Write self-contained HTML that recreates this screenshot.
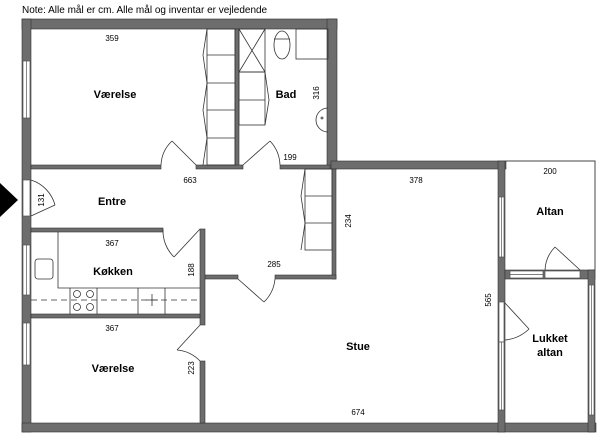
<!DOCTYPE html><html><head><style>body{margin:0;background:#fff}svg{display:block}text{font-family:"Liberation Sans",sans-serif}</style></head><body>
<svg width="600" height="436" viewBox="0 0 600 436" xmlns="http://www.w3.org/2000/svg">
<text x="22" y="13" font-size="10">Note: Alle mål er cm. Alle mål og inventar er vejledende</text>
<g fill="#6d6d6d" stroke="#333" stroke-width="0.6">
<rect x="22" y="19" width="315" height="10"/>
<rect x="22" y="19" width="9" height="413"/>
<rect x="327" y="19" width="10" height="150"/>
<rect x="331" y="161" width="175" height="8"/>
<rect x="22" y="423" width="574" height="9"/>
<rect x="498" y="161" width="7" height="271"/>
<rect x="505" y="270" width="90" height="9"/>
<rect x="588" y="270" width="7" height="162"/>
<rect x="235" y="29" width="4" height="138"/>
<rect x="31" y="165" width="130" height="4"/>
<rect x="196" y="165" width="47" height="4"/>
<rect x="280" y="165" width="50" height="4"/>
<rect x="332" y="169" width="4" height="110"/>
<rect x="205" y="275" width="33" height="4"/>
<rect x="275" y="275" width="61" height="4"/>
<rect x="31" y="228" width="132" height="4"/>
<rect x="200" y="229" width="5" height="96"/>
<rect x="200" y="361" width="5" height="62"/>
<rect x="31" y="314" width="169" height="4"/>
</g>
<polyline points="505,161 595,161 595,270" fill="none" stroke="#444" stroke-width="1"/>
<g fill="#fff" stroke="#555" stroke-width="0.7">
<rect x="23" y="61" width="7" height="57"/><line x1="26.5" y1="61" x2="26.5" y2="118"/>
<rect x="23" y="245" width="7" height="50"/><line x1="26.5" y1="245" x2="26.5" y2="295"/>
<rect x="23" y="323" width="7" height="42"/><line x1="26.5" y1="323" x2="26.5" y2="365"/>
<rect x="23" y="180" width="7" height="36"/>
<rect x="499" y="197" width="5" height="60"/><line x1="501.5" y1="197" x2="501.5" y2="257"/>
<rect x="499" y="302" width="5" height="40"/>
<rect x="499" y="342" width="5" height="68"/><line x1="501.5" y1="342" x2="501.5" y2="410"/>
<rect x="510" y="271" width="33" height="7"/><line x1="510" y1="274.5" x2="543" y2="274.5"/>
<rect x="545" y="271" width="35" height="7"/>
<rect x="589" y="285" width="5" height="130"/><line x1="591.5" y1="285" x2="591.5" y2="415"/>
</g>
<polygon points="0,183 18,200 0,217" fill="#000"/>
<g fill="none" stroke="#333" stroke-width="0.8">
<rect x="207" y="29" width="28" height="136"/>
<line x1="207" y1="55" x2="235" y2="55"/><line x1="207" y1="83" x2="235" y2="83"/><line x1="207" y1="110" x2="235" y2="110"/><line x1="207" y1="138" x2="235" y2="138"/>
<polyline points="207,29 203,55 207,83 203,110 207,138 203,165"/>
<rect x="239" y="29" width="26" height="43"/><line x1="239" y1="29" x2="265" y2="72"/><line x1="265" y1="29" x2="239" y2="72"/>
<rect x="239" y="72" width="26" height="53"/><line x1="239" y1="100" x2="265" y2="100"/>
<polyline points="265,72 269,100 265,125"/>
<ellipse cx="282" cy="45" rx="8" ry="14"/><line x1="274" y1="39" x2="290" y2="39"/>
<rect x="296" y="29" width="32" height="30"/>
<path d="M328,108 A10,10 0 1 0 328,132"/><circle cx="322" cy="118" r="1"/>
<rect x="305" y="169" width="27" height="81"/>
<line x1="305" y1="196" x2="332" y2="196"/><line x1="305" y1="223" x2="332" y2="223"/>
<polyline points="305,169 301,196 305,223 301,250"/>
<polyline points="58,232 58,288 200,288"/>
<rect x="35" y="259" width="18" height="20" rx="3"/>
<line x1="70" y1="288" x2="70" y2="314"/><line x1="97" y1="288" x2="97" y2="314"/>
<line x1="138" y1="288" x2="138" y2="314"/><line x1="165" y1="288" x2="165" y2="314"/>
<circle cx="77" cy="294" r="3.5"/><circle cx="90" cy="294" r="3.5"/><circle cx="77" cy="307" r="3.5"/><circle cx="90" cy="307" r="3.5"/>
<line x1="31" y1="300" x2="200" y2="300" stroke-dasharray="6,4"/>
<line x1="146" y1="300" x2="158" y2="300"/><line x1="152" y1="294" x2="152" y2="306"/>
<line x1="196" y1="165" x2="172" y2="141"/><path d="M172,141 A35,35 0 0 0 161,165"/>
<line x1="243" y1="165" x2="270" y2="141"/><path d="M270,141 A37,37 0 0 1 280,165"/>
<line x1="200" y1="229" x2="174" y2="257"/><path d="M174,257 A37,37 0 0 1 163,229"/>
<line x1="238" y1="279" x2="264" y2="302"/><path d="M264,302 A37,37 0 0 0 275,279"/>
<line x1="200" y1="325" x2="177" y2="350"/><path d="M177,350 A36,36 0 0 1 200,361"/>
<line x1="31" y1="216" x2="55" y2="205"/><path d="M55,205 A36,36 0 0 0 31,180"/>
<line x1="505" y1="303" x2="529" y2="329"/><path d="M529,329 A40,40 0 0 1 505,340"/>
<line x1="580" y1="270" x2="555" y2="247"/><path d="M555,247 A35,35 0 0 0 545,270"/>
</g>
<g font-size="11" font-weight="bold" text-anchor="middle">
<text x="115" y="98">Værelse</text><text x="286" y="98">Bad</text>
<text x="112" y="205">Entre</text><text x="113" y="275">Køkken</text>
<text x="113" y="372">Værelse</text><text x="358" y="350">Stue</text>
<text x="550" y="215">Altan</text><text x="550" y="342">Lukket</text><text x="550" y="356">altan</text>
</g>
<g font-size="8" text-anchor="middle">
<text x="112" y="41">359</text><text x="290" y="160">199</text><text x="190" y="183">663</text>
<text x="112" y="246">367</text><text x="112" y="331">367</text><text x="274" y="267">285</text>
<text x="416" y="183">378</text><text x="550" y="174">200</text><text x="358" y="415">674</text>
<text transform="translate(319,93) rotate(-90)">316</text>
<text transform="translate(44,200) rotate(-90)">131</text>
<text transform="translate(194,270) rotate(-90)">188</text>
<text transform="translate(194,368) rotate(-90)">223</text>
<text transform="translate(351,221) rotate(-90)">234</text>
<text transform="translate(491,300) rotate(-90)">565</text>
</g>
</svg></body></html>
